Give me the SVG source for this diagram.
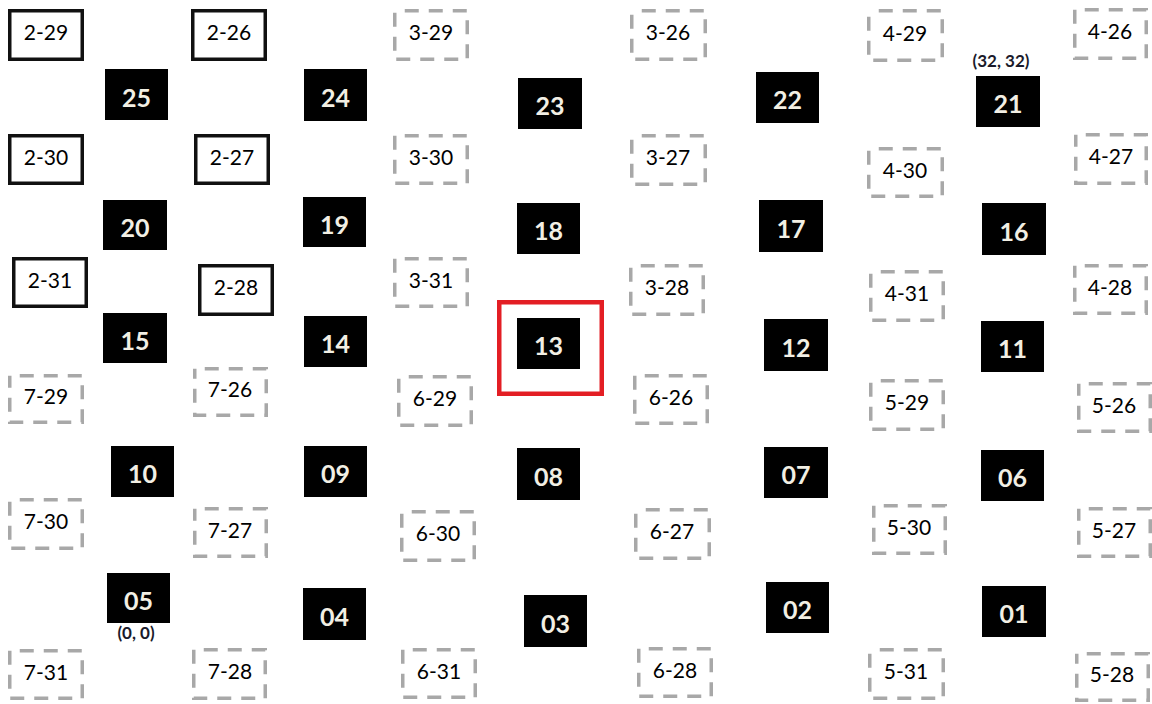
<svg xmlns="http://www.w3.org/2000/svg" width="1152" height="704" viewBox="0 0 1152 704">
<style>
text{font-family:Lato,"Open Sans","Liberation Sans",sans-serif;text-anchor:middle}
.s{fill:#fff;stroke:#111;stroke-width:3.5}
.d{fill:#fff;stroke:#a8a8a8;stroke-width:3.5;stroke-dasharray:14 10;stroke-dashoffset:14}
.b{fill:#000}
.lt{font-size:21px;fill:#000}
.bt{font-size:25px;font-weight:bold;fill:#f2efe4}
.ct{font-size:17px;font-weight:bold;fill:#1a1a2a}
.hl{fill:none;stroke:#e31e24;stroke-width:4.5}
</style>
<rect width="1152" height="704" fill="#fff"/>
<g id="connectors"></g>
<!-- solid label boxes -->
<g id="n2-29"><rect class="s" x="9.75" y="10.75" width="72.5" height="48.5"/><text class="lt" x="46" y="40">2-29</text></g>
<g id="n2-26"><rect class="s" x="192.75" y="10.75" width="72.5" height="48.5"/><text class="lt" x="229" y="40">2-26</text></g>
<g id="n2-30"><rect class="s" x="9.75" y="135.75" width="72.5" height="47.5"/><text class="lt" x="46" y="165">2-30</text></g>
<g id="n2-27"><rect class="s" x="195.75" y="135.75" width="72.5" height="47.5"/><text class="lt" x="232" y="165">2-27</text></g>
<g id="n2-31"><rect class="s" x="13.75" y="258.75" width="72.5" height="47.5"/><text class="lt" x="50" y="288">2-31</text></g>
<g id="n2-28"><rect class="s" x="199.75" y="265.75" width="72.5" height="48.5"/><text class="lt" x="236" y="295">2-28</text></g>
<!-- dashed label boxes -->
<g id="n7-29"><rect class="d" x="9.75" y="375.75" width="72.5" height="46.5"/><text class="lt" x="46" y="404">7-29</text></g>
<g id="n7-26"><rect class="d" x="194.75" y="368.75" width="71.5" height="46.5"/><text class="lt" x="230" y="397">7-26</text></g>
<g id="n7-30"><rect class="d" x="9.75" y="499.75" width="72.5" height="48.5"/><text class="lt" x="46" y="529">7-30</text></g>
<g id="n7-27"><rect class="d" x="194.75" y="508.75" width="71.5" height="47.5"/><text class="lt" x="230" y="538">7-27</text></g>
<g id="n7-31"><rect class="d" x="9.75" y="650.75" width="72.5" height="47.5"/><text class="lt" x="46" y="680">7-31</text></g>
<g id="n7-28"><rect class="d" x="193.75" y="649.75" width="71.5" height="48.5"/><text class="lt" x="230" y="679">7-28</text></g>
<g id="n3-29"><rect class="d" x="394.75" y="10.75" width="72.5" height="48.5"/><text class="lt" x="431" y="40">3-29</text></g>
<g id="n3-30"><rect class="d" x="394.75" y="135.75" width="72.5" height="47.5"/><text class="lt" x="431" y="165">3-30</text></g>
<g id="n3-31"><rect class="d" x="394.75" y="258.75" width="72.5" height="47.5"/><text class="lt" x="431" y="288">3-31</text></g>
<g id="n6-29"><rect class="d" x="398.75" y="376.75" width="72.5" height="48.5"/><text class="lt" x="435" y="406">6-29</text></g>
<g id="n6-30"><rect class="d" x="401.75" y="511.75" width="72.5" height="48.5"/><text class="lt" x="438" y="541">6-30</text></g>
<g id="n6-31"><rect class="d" x="402.75" y="649.75" width="72.5" height="47.5"/><text class="lt" x="439" y="679">6-31</text></g>
<g id="n3-26"><rect class="d" x="631.75" y="10.75" width="73.5" height="48.5"/><text class="lt" x="668" y="40">3-26</text></g>
<g id="n3-27"><rect class="d" x="631.75" y="135.75" width="73.5" height="48.5"/><text class="lt" x="668" y="165">3-27</text></g>
<g id="n3-28"><rect class="d" x="630.75" y="265.75" width="72.5" height="48.5"/><text class="lt" x="667" y="295">3-28</text></g>
<g id="n6-26"><rect class="d" x="634.75" y="375.75" width="72.5" height="47.5"/><text class="lt" x="671" y="405">6-26</text></g>
<g id="n6-27"><rect class="d" x="635.75" y="509.75" width="73.5" height="48.5"/><text class="lt" x="672" y="539">6-27</text></g>
<g id="n6-28"><rect class="d" x="638.75" y="648.75" width="72.5" height="47.5"/><text class="lt" x="675" y="678">6-28</text></g>
<g id="n4-29"><rect class="d" x="868.75" y="10.75" width="73.5" height="49.5"/><text class="lt" x="905" y="41">4-29</text></g>
<g id="n4-30"><rect class="d" x="868.75" y="148.75" width="73.5" height="47.5"/><text class="lt" x="905" y="178">4-30</text></g>
<g id="n4-31"><rect class="d" x="870.75" y="271.75" width="72.5" height="48.5"/><text class="lt" x="907" y="301">4-31</text></g>
<g id="n5-29"><rect class="d" x="870.75" y="380.75" width="72.5" height="48.5"/><text class="lt" x="907" y="410">5-29</text></g>
<g id="n5-30"><rect class="d" x="873.75" y="505.75" width="71.5" height="47.5"/><text class="lt" x="909" y="535">5-30</text></g>
<g id="n5-31"><rect class="d" x="869.75" y="649.75" width="73.5" height="48.5"/><text class="lt" x="906" y="679">5-31</text></g>
<g id="n4-26"><rect class="d" x="1074.75" y="9.75" width="71.5" height="48.5"/><text class="lt" x="1110" y="39">4-26</text></g>
<g id="n4-27"><rect class="d" x="1075.75" y="134.75" width="70.5" height="48.5"/><text class="lt" x="1111" y="164">4-27</text></g>
<g id="n4-28"><rect class="d" x="1074.75" y="265.75" width="71.5" height="47.5"/><text class="lt" x="1110" y="295">4-28</text></g>
<g id="n5-26"><rect class="d" x="1078.75" y="383.75" width="71.5" height="47.5"/><text class="lt" x="1114" y="413">5-26</text></g>
<g id="n5-27"><rect class="d" x="1078.75" y="508.75" width="71.5" height="47.5"/><text class="lt" x="1114" y="538">5-27</text></g>
<g id="n5-28"><rect class="d" x="1076.75" y="653.75" width="71.5" height="46.5"/><text class="lt" x="1112" y="682">5-28</text></g>
<!-- black numbered boxes -->
<g id="n25"><rect class="b" x="105" y="69" width="63" height="51"/><text class="bt" x="136.5" y="107">25</text></g>
<g id="n20"><rect class="b" x="103" y="200" width="64" height="50"/><text class="bt" x="135" y="237">20</text></g>
<g id="n15"><rect class="b" x="103" y="313" width="64" height="50"/><text class="bt" x="135" y="350">15</text></g>
<g id="n10"><rect class="b" x="111" y="446" width="63" height="51"/><text class="bt" x="142.5" y="483">10</text></g>
<g id="n05"><rect class="b" x="107" y="573" width="63" height="50"/><text class="bt" x="138.5" y="610">05</text></g>
<g id="n24"><rect class="b" x="304" y="69" width="63" height="52"/><text class="bt" x="335.5" y="107">24</text></g>
<g id="n19"><rect class="b" x="303" y="197" width="63" height="50"/><text class="bt" x="334.5" y="234">19</text></g>
<g id="n14"><rect class="b" x="304" y="316" width="63" height="51"/><text class="bt" x="335.5" y="353">14</text></g>
<g id="n09"><rect class="b" x="304" y="446" width="63" height="51"/><text class="bt" x="335.5" y="483">09</text></g>
<g id="n04"><rect class="b" x="303" y="588" width="63" height="52"/><text class="bt" x="334.5" y="626">04</text></g>
<g id="n23"><rect class="b" x="518" y="78" width="64" height="51"/><text class="bt" x="550" y="115">23</text></g>
<g id="n18"><rect class="b" x="517" y="203" width="63" height="51"/><text class="bt" x="548.5" y="240">18</text></g>
<g id="n13"><rect class="b" x="517" y="318" width="63" height="51"/><text class="bt" x="548.5" y="355">13</text></g>
<g id="n08"><rect class="b" x="517" y="448" width="63" height="52"/><text class="bt" x="548.5" y="486">08</text></g>
<g id="n03"><rect class="b" x="524" y="595" width="63" height="52"/><text class="bt" x="555.5" y="633">03</text></g>
<g id="n22"><rect class="b" x="756" y="72" width="63" height="51"/><text class="bt" x="787.5" y="109">22</text></g>
<g id="n17"><rect class="b" x="759" y="200" width="64" height="52"/><text class="bt" x="791" y="238">17</text></g>
<g id="n12"><rect class="b" x="764" y="319" width="64" height="52"/><text class="bt" x="796" y="357">12</text></g>
<g id="n07"><rect class="b" x="764" y="447" width="64" height="51"/><text class="bt" x="796" y="484">07</text></g>
<g id="n02"><rect class="b" x="766" y="582" width="63" height="51"/><text class="bt" x="797.5" y="619">02</text></g>
<g id="n21"><rect class="b" x="976" y="76" width="64" height="51"/><text class="bt" x="1008" y="113">21</text></g>
<g id="n16"><rect class="b" x="982" y="203" width="64" height="52"/><text class="bt" x="1014" y="241">16</text></g>
<g id="n11"><rect class="b" x="981" y="321" width="63" height="51"/><text class="bt" x="1012.5" y="358">11</text></g>
<g id="n06"><rect class="b" x="981" y="450" width="63" height="51"/><text class="bt" x="1012.5" y="487">06</text></g>
<g id="n01"><rect class="b" x="982" y="586" width="64" height="51"/><text class="bt" x="1014" y="623">01</text></g>
<!-- highlight and coordinate labels -->
<g id="highlight"><rect class="hl" x="499.25" y="302.25" width="102.5" height="91.5"/></g>
<g id="origin"><text class="ct" x="136" y="639">(0, 0)</text></g>
<g id="corner"><text class="ct" x="1001" y="67">(32, 32)</text></g>
</svg>
